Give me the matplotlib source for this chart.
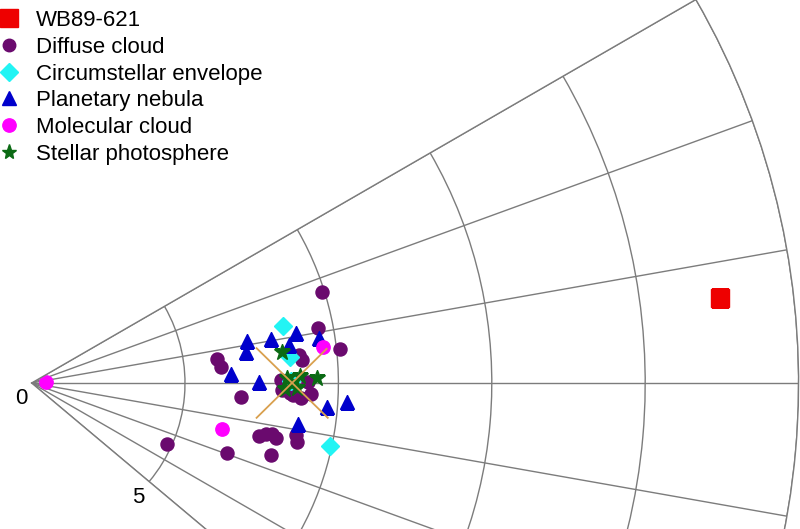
import numpy as np
import matplotlib
matplotlib.use('Agg')
import matplotlib.pyplot as plt
from matplotlib.lines import Line2D

plt.rcParams['font.family'] = ['Liberation Sans', 'DejaVu Sans']

# ---- data: radius and angle (degrees) ----
wb_r = [22.6]
wb_t = [7.0]

diffuse_r = [9.91, 9.52, 10.10, 6.11, 6.18, 6.83, 4.83, 6.78, 8.14, 7.60, 7.81,
             8.00, 8.18, 8.77, 8.85, 9.13, 8.81, 8.75, 8.42, 8.12, 8.15, 8.52,
             9.00, 8.86]
diffuse_t = [17.4, 10.9, 6.3, 7.4, 4.8, -3.8, -24.3, -19.7, -16.8, -13.1, -12.3,
             -12.0, -12.7, -11.1, -12.6, -2.3, -3.2, 6.0, -2.2, 0.7, -1.6, -2.6,
             0.2, 4.9]

circum_r = [8.39, 8.48, 9.93, 8.44]
circum_t = [12.8, 5.7, -11.9, 0.4]

planet_r = [7.14, 7.05, 7.95, 8.76, 8.47, 9.47, 6.49, 7.40, 9.65, 10.29, 8.80]
planet_t = [11.1, 8.2, 10.4, 10.7, 8.4, 8.9, 2.6, 0.3, -4.7, -3.5, -8.7]

molec_r = [0.48, 9.56, 6.37]
molec_t = [5.0, 7.1, -13.6]

stellar_r = [8.21, 9.32, 8.47, 8.31, 8.64, 8.25, 8.74]
stellar_t = [7.1, 1.0, 0.0, 1.1, -1.1, -1.4, 1.5]

# orange cross: two segments (r, theta)
cross1_r = [7.42, 9.72]
cross1_t = [8.8, -6.7]
cross2_r = [7.42, 9.68]
cross2_t = [-8.8, 6.6]

r_ticks = [0, 5, 10, 15, 20, 25]
r_tick_labels = ['0', '5', '', '', '', '']   # the others fall outside the picture
theta_grid = [-40, -30, -20, -10, 0, 10, 20, 30]

labels = ['WB89-621', 'Diffuse cloud', 'Circumstellar envelope',
          'Planetary nebula', 'Molecular cloud', 'Stellar photosphere']

# ---- figure ----
W, H = 800, 529
fig = plt.figure(figsize=(W / 100, H / 100), dpi=100)
ox, oy = 37, H - 383          # pixel anchor of the polar origin
scale = 767 / 25.0            # pixels per radial unit
tmin, tmax, rmax = -40, 30, 25
ylo = rmax * np.sin(np.radians(tmin))
yhi = rmax * np.sin(np.radians(tmax))
side = (yhi - ylo)            # wedge bbox is padded to a square
pad_x = (side - rmax) / 2
ax = fig.add_axes([(ox - pad_x * scale) / W, (oy + ylo * scale) / H,
                   side * scale / W, side * scale / H], projection='polar')
ax.set_thetamin(tmin)
ax.set_thetamax(tmax)
ax.set_rlim(0, rmax)
ax.set_thetagrids(theta_grid, labels=[''] * len(theta_grid))
ax.set_rgrids(r_ticks, labels=r_tick_labels)
ax.tick_params(axis='y', labelsize=16, pad=5, length=0)
ax.tick_params(axis='x', length=0)
ax.grid(True, color='#7c7c7c', lw=1.0)
for sp in ax.spines.values():
    sp.set_color('#7c7c7c')
    sp.set_linewidth(1.0)

kw = dict(ls='none')
ax.plot(np.radians(wb_t), wb_r, marker='s', ms=13, color='#ee0000', mec='#ee0000', **kw)
ax.plot(np.radians(diffuse_t), diffuse_r, marker='o', ms=9.4, color='#6a0a6e', mec='#6a0a6e', **kw)
ax.plot(np.radians(circum_t), circum_r, marker='D', ms=9.5, color='#22f4f4', mec='#22f4f4', **kw)
ax.plot(np.radians(planet_t), planet_r, marker='^', ms=9.6, color='#0000cc', mec='#0000cc', **kw)
ax.plot(np.radians(molec_t), molec_r, marker='o', ms=9.6, color='#ff00ff', mec='#ff00ff', **kw)
ax.plot(np.radians(stellar_t), stellar_r, marker='*', ms=12, color='#0b6a14', mec='#0b6a14', **kw)
ax.plot(np.radians(cross1_t), cross1_r, color='#d9a04e', lw=1.3, zorder=5)
ax.plot(np.radians(cross2_t), cross2_r, color='#d9a04e', lw=1.3, zorder=5)

handles = [
    Line2D([], [], ls='none', marker='s', ms=12.5, color='#ee0000'),
    Line2D([], [], ls='none', marker='o', ms=9, color='#6a0a6e'),
    Line2D([], [], ls='none', marker='D', ms=9.5, color='#22f4f4'),
    Line2D([], [], ls='none', marker='^', ms=9.6, color='#0000cc'),
    Line2D([], [], ls='none', marker='o', ms=9.6, color='#ff00ff'),
    Line2D([], [], ls='none', marker='*', ms=11, color='#0b6a14'),
]
fig.legend(handles, labels, loc='upper left', bbox_to_anchor=(-10.0 / W, 1),
           frameon=False, fontsize=16, handlelength=0.8, handletextpad=0.8,
           labelspacing=0.255, borderpad=0.46, borderaxespad=0)

fig.savefig('out.png', dpi=100)
